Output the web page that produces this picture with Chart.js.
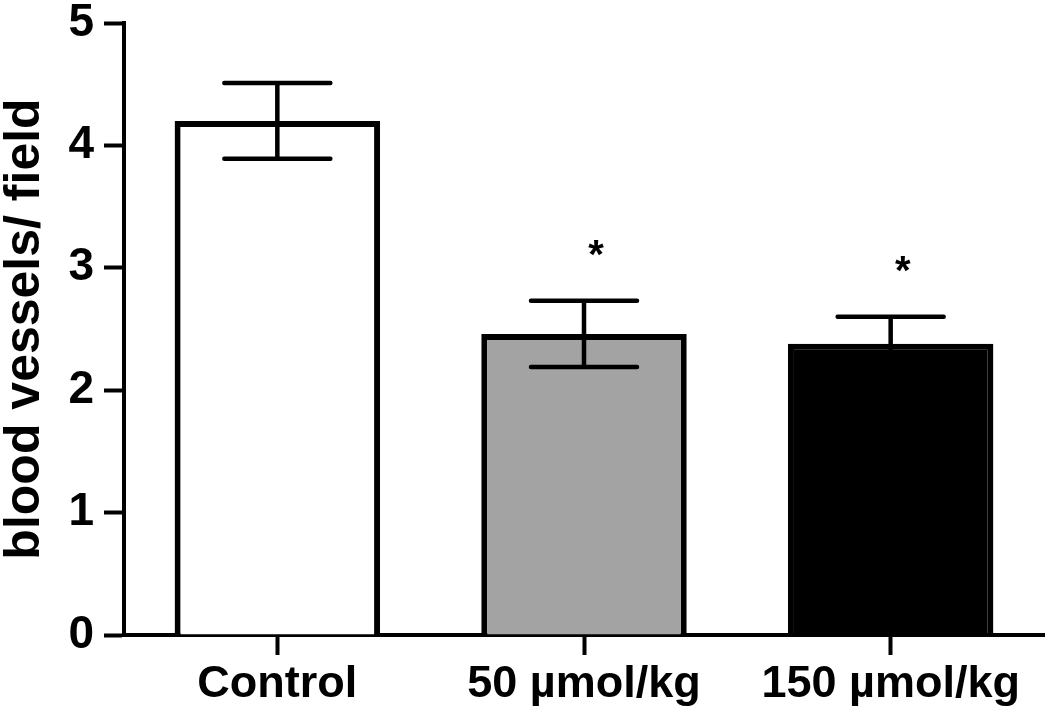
<!DOCTYPE html>
<html>
<head>
<meta charset="utf-8">
<script src="https://cdn.jsdelivr.net/npm/chart.js@4/dist/chart.umd.min.js"></script>
<style>
  body { margin: 0; background: #fff; }
  #wrap { width: 1050px; height: 715px; position: relative; }
</style>
</head>
<body>
<div id="wrap"><canvas id="chart"></canvas></div>
<script>
// data
const categories = ["Control", "50 \u00b5mol/kg", "150 \u00b5mol/kg"];
const means = [4.2, 2.46, 2.38];
const errors = [0.31, 0.27, 0.22];
const marks = ["", "*", "*"];
const yTicks = [0, 1, 2, 3, 4, 5];
const barColors = ["#ffffff", "#a3a3a3", "#000000"];

const FONT = "'Liberation Sans', Arial, sans-serif";

// error bars + significance stars
const errorBars = {
  id: "errorBars",
  afterDatasetsDraw(chart) {
    const ctx = chart.ctx;
    const x = chart.scales.x;
    const y = chart.scales.y;
    ctx.save();
    ctx.strokeStyle = "#000";
    ctx.lineWidth = 4.5;
    ctx.lineCap = "round";
    means.forEach((m, i) => {
      const cx = x.getPixelForValue(i);
      const top = y.getPixelForValue(m + errors[i]);
      const bot = y.getPixelForValue(m - errors[i]);
      const half = 53;
      ctx.beginPath();
      ctx.moveTo(cx, top); ctx.lineTo(cx, bot);
      ctx.moveTo(cx - half, top); ctx.lineTo(cx + half, top);
      ctx.moveTo(cx - half, bot); ctx.lineTo(cx + half, bot);
      ctx.stroke();
      if (marks[i]) {
        ctx.fillStyle = "#000";
        ctx.font = "bold 40px " + FONT;
        ctx.textAlign = "center";
        ctx.textBaseline = "middle";
        ctx.fillText(marks[i], cx + 12, top - 44);
      }
    });
    ctx.restore();
  }
};

new Chart(document.getElementById("chart"), {
  type: "bar",
  data: {
    labels: categories,
    datasets: [{
      data: means,
      backgroundColor: barColors,
      borderColor: "#000",
      borderWidth: 6,
      barPercentage: 0.67,
      categoryPercentage: 1
    }]
  },
  options: {
    responsive: true,
    maintainAspectRatio: false,
    animation: false,
    layout: { padding: { top: 23, right: 6, left: 0, bottom: 0 } },
    plugins: {
      legend: { display: false },
      tooltip: { enabled: false }
    },
    scales: {
      x: {
        grid: {
          offset: false,
          drawOnChartArea: false,
          drawTicks: true,
          tickLength: 20,
          tickWidth: 4,
          color: "#000"
        },
        border: { color: "#000", width: 4 },
        ticks: {
          color: "#000",
          padding: 3,
          font: { family: FONT, size: 45, weight: "bold" }
        },
        afterFit(scale) {
          scale.height = 80;
          scale.paddingLeft = 0;
          scale.paddingRight = 0;
        }
      },
      y: {
        min: 0,
        max: 5,
        afterBuildTicks(scale) { scale.ticks = yTicks.map(v => ({ value: v })); },
        grid: {
          drawOnChartArea: false,
          drawTicks: true,
          tickLength: 20,
          tickWidth: 4,
          color: "#000"
        },
        border: { color: "#000", width: 4 },
        ticks: {
          color: "#000",
          padding: 10,
          font: { family: FONT, size: 46, weight: "bold" }
        },
        title: {
          display: true,
          text: "blood vessels/ field",
          color: "#000",
          padding: { top: 0, bottom: 0 },
          font: { family: FONT, size: 50, weight: "bold", lineHeight: 1 }
        },
        afterFit(scale) {
          scale.width = 124;
          scale.paddingTop = 0;
          scale.paddingBottom = 0;
        }
      }
    }
  },
  plugins: [errorBars]
});
</script>
</body>
</html>
